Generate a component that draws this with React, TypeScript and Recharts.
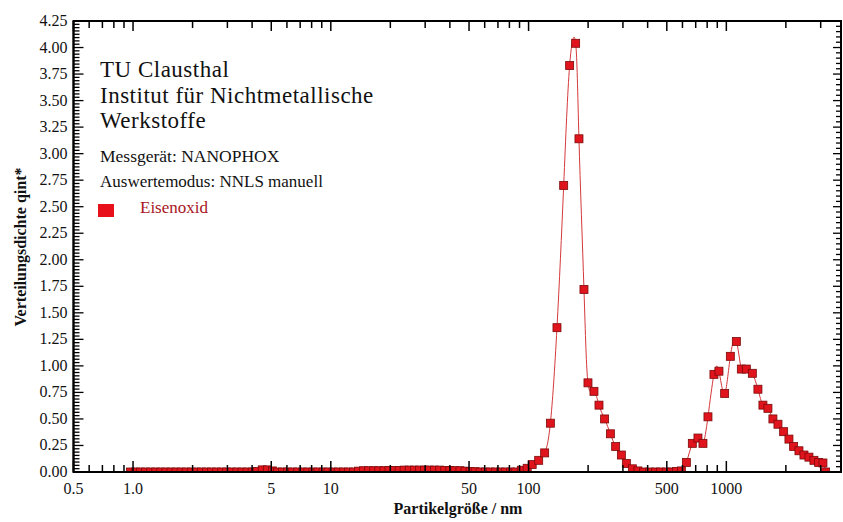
import React from "react"
import { LineChart, Line, XAxis, YAxis } from "recharts"

// particle size (nm), log-spaced measurement bins
const sizeNm = [
  0.97, 1.029, 1.091, 1.158, 1.228, 1.303, 1.382, 1.466, 1.555, 1.65,
  1.75, 1.857, 1.97, 2.089, 2.216, 2.351, 2.494, 2.646, 2.807, 2.977,
  3.158, 3.35, 3.554, 3.77, 3.999, 4.243, 4.5, 4.774, 5.064, 5.372,
  5.699, 6.045, 6.413, 6.803, 7.216, 7.655, 8.121, 8.614, 9.138, 9.694,
  10.28, 10.91, 11.57, 12.27, 13.02, 13.81, 14.65, 15.54, 16.49, 17.49,
  18.55, 19.68, 20.88, 22.15, 23.49, 24.92, 26.44, 28.05, 29.75, 31.56,
  33.48, 35.52, 37.68, 39.97, 42.4, 44.97, 47.71, 50.61, 53.68, 56.95,
  60.41, 64.08, 67.98, 72.11, 76.5, 81.15, 86.08, 91.9, 98.4, 104.3,
  112.5, 120.6, 128.9, 139.2, 150.5, 161.3, 173, 179.8, 190.6, 199.7,
  214.1, 227, 242.4, 259.2, 275.6, 294.6, 312.2, 334.8, 357.3, 381.9,
  409.5, 439.2, 463.8, 497.4, 527.2, 558.8, 592.3, 627.9, 673, 718.6,
  761.7, 807.4, 865.7, 917.6, 980.4, 1047.6, 1123.6, 1190.7, 1262.1, 1353.5,
  1444.6, 1531, 1623, 1720, 1824, 1949, 2073, 2189, 2329, 2469,
  2616, 2773, 2929, 3079, 3177,
]

// Eisenoxid, Verteilungsdichte q_int*
const qint = [
  0, 0, 0, 0, 0, 0, 0, 0, 0, 0,
  0, 0, 0, 0, 0, 0, 0, 0, 0, 0,
  0, 0, 0, 0, 0, 0.005, 0.02, 0.02, 0.01, 0,
  0, 0, 0, 0, 0, 0, 0, 0, 0, 0,
  0, 0, 0, 0, 0, 0.008, 0.012, 0.012, 0.012, 0.012,
  0.012, 0.015, 0.015, 0.015, 0.018, 0.018, 0.018, 0.018, 0.018, 0.018,
  0.018, 0.018, 0.015, 0.015, 0.012, 0.012, 0.008, 0.005, 0.003, 0,
  0, 0, 0, 0, 0, 0, 0, 0.016, 0.035, 0.07,
  0.11, 0.18, 0.46, 1.36, 2.7, 3.83, 4.04, 3.14, 1.72, 0.84,
  0.76, 0.63, 0.5, 0.36, 0.24, 0.16, 0.08, 0.03, 0.01, 0,
  0, 0, 0, 0, 0, 0.005, 0.01, 0.09, 0.27, 0.32,
  0.27, 0.52, 0.92, 0.95, 0.74, 1.09, 1.23, 0.97, 0.97, 0.93,
  0.78, 0.63, 0.6, 0.5, 0.45, 0.38, 0.31, 0.24, 0.2, 0.16,
  0.14, 0.11, 0.09, 0.085, 0,
]

const xLabelTicks = [0.5, 1, 5, 10, 50, 100, 500, 1000]
const xLabels = ["0.5", "1.0", "5", "10", "50", "100", "500", "1000"]
const xMinorTicks = [
  0.6, 0.7, 0.8, 0.9, 2, 3, 4, 6, 7, 8, 9, 20, 30, 40, 60, 70, 80, 90,
  200, 300, 400, 600, 700, 800, 900, 2000, 3000,
]
const yLabelTicks = [
  0, 0.25, 0.5, 0.75, 1, 1.25, 1.5, 1.75, 2, 2.25, 2.5, 2.75, 3, 3.25, 3.5,
  3.75, 4, 4.25,
]

// layout
const W = 843
const H = 522
const M_TOP = 21
const M_RIGHT = 2
const Y_AXIS_W = 73.5
const X_AXIS_H = 50
const PLOT_L = Y_AXIS_W
const PLOT_R = W - M_RIGHT
const PLOT_T = M_TOP
const PLOT_B = H - X_AXIS_H
const PLOT_W = PLOT_R - PLOT_L
const PLOT_H = PLOT_B - PLOT_T

const data = sizeNm.map((x, i) => ({ x, q: qint[i] }))
const xTicks = [...xLabelTicks, ...xMinorTicks].sort((a, b) => a - b)

const onStep = (v: number, step: number) => Math.abs(v / step - Math.round(v / step)) < 1e-6
const isMajorY = (v: number) => yLabelTicks.some((t) => Math.abs(t - v) < 1e-6)
// left side: 1/8 subdivisions, right side: 0.05 steps
const yTickSet = new Map<string, number>()
for (let i = 0; i <= 136; i++) yTickSet.set((i * 0.03125).toFixed(5), i * 0.03125)
for (let i = 0; i <= 85; i++) yTickSet.set((i * 0.05).toFixed(5), i * 0.05)
const yTicks = [...yTickSet.values()].sort((a, b) => a - b)

const FONT = "'Liberation Serif', 'Times New Roman', serif"
const INK = "#000000"

function BottomTick(p: any) {
  const idx = xLabelTicks.indexOf(p.payload.value)
  const major = idx >= 0
  const yTop = p.y - PLOT_H
  return (
    <g>
      <line x1={p.x} x2={p.x} y1={p.y} y2={p.y - (major ? 11 : 7)} stroke={INK} strokeWidth={1.5} />
      <line x1={p.x} x2={p.x} y1={yTop} y2={yTop + (major ? 10 : 7)} stroke={INK} strokeWidth={1.5} />
      {major && (
        <text x={p.x} y={p.y + 22} textAnchor="middle" fontFamily={FONT} fontSize={16} fill="#111">
          {xLabels[idx]}
        </text>
      )}
    </g>
  )
}

function LeftTick(p: any) {
  const v = p.payload.value
  const major = isMajorY(v)
  const xRight = p.x + PLOT_W
  return (
    <g>
      {onStep(v, 0.03125) && (
        <line x1={p.x} x2={p.x + (major ? 10 : 6)} y1={p.y} y2={p.y} stroke={INK} strokeWidth={1.3} />
      )}
      {onStep(v, 0.05) && (
        <line x1={xRight} x2={xRight - (major ? 8 : 5)} y1={p.y} y2={p.y} stroke={INK} strokeWidth={1.3} />
      )}
      {major && (
        <text x={p.x - 6} y={p.y + 5} textAnchor="end" fontFamily={FONT} fontSize={16} fill="#111">
          {v.toFixed(2)}
        </text>
      )}
    </g>
  )
}

function SquareDot(p: any) {
  const { cx, cy, index } = p
  if (cx == null || cy == null) return <g key={index} />
  return (
    <rect key={index} x={cx - 4} y={cy - 4} width={8} height={8} fill="#e0141c" stroke="#7c0a0a" strokeWidth={0.8} />
  )
}

export default function App() {
  return (
    <div style={{ position: "absolute", left: 0, top: 0, width: W, height: H, background: "#fff" }}>
      <LineChart width={W} height={H} data={data} margin={{ top: M_TOP, right: M_RIGHT, bottom: 0, left: 0 }}>
        <XAxis
          dataKey="x"
          type="number"
          scale="log"
          domain={[0.5, 3800]}
          allowDataOverflow
          ticks={xTicks}
          interval={0}
          height={X_AXIS_H}
          tickSize={0}
          tickMargin={0}
          tickLine={false}
          tick={BottomTick}
          axisLine={{ stroke: INK, strokeWidth: 1.8 }}
        />
        <YAxis
          type="number"
          domain={[0, 4.25]}
          allowDataOverflow
          ticks={yTicks}
          interval={0}
          width={Y_AXIS_W}
          tickSize={0}
          tickMargin={0}
          tickLine={false}
          tick={LeftTick}
          axisLine={{ stroke: INK, strokeWidth: 1.8 }}
        />
        <Line
          dataKey="q"
          type="natural"
          stroke="#d4393c"
          strokeWidth={1}
          dot={SquareDot}
          activeDot={false}
          isAnimationActive={false}
        />
      </LineChart>
      <svg width={W} height={H} style={{ position: "absolute", left: 0, top: 0, pointerEvents: "none" }}>
        <rect x={PLOT_L} y={PLOT_T} width={PLOT_W} height={PLOT_H} fill="none" stroke={INK} strokeWidth={2} />
        <g fontFamily={FONT} fill="#111">
          <g fontSize={23} letterSpacing={0.5}>
            <text x={100} y={77}>TU Clausthal</text>
            <text x={100} y={103}>Institut für Nichtmetallische</text>
            <text x={100} y={128}>Werkstoffe</text>
          </g>
          <text x={100} y={162} fontSize={17.5}>Messgerät: NANOPHOX</text>
          <text x={100} y={187} fontSize={17}>Auswertemodus: NNLS manuell</text>
          <rect x={98} y={204} width={16} height={13} fill="#e8101a" />
          <text x={140} y={213} fontSize={17} fill="#a8141c">Eisenoxid</text>
          <text x={458} y={514} fontSize={16} fontWeight="bold" textAnchor="middle">
            Partikelgröße / nm
          </text>
          <text transform="translate(26,247) rotate(-90)" fontSize={16} fontWeight="bold" textAnchor="middle">
            Verteilungsdichte qint*
          </text>
        </g>
      </svg>
    </div>
  )
}
